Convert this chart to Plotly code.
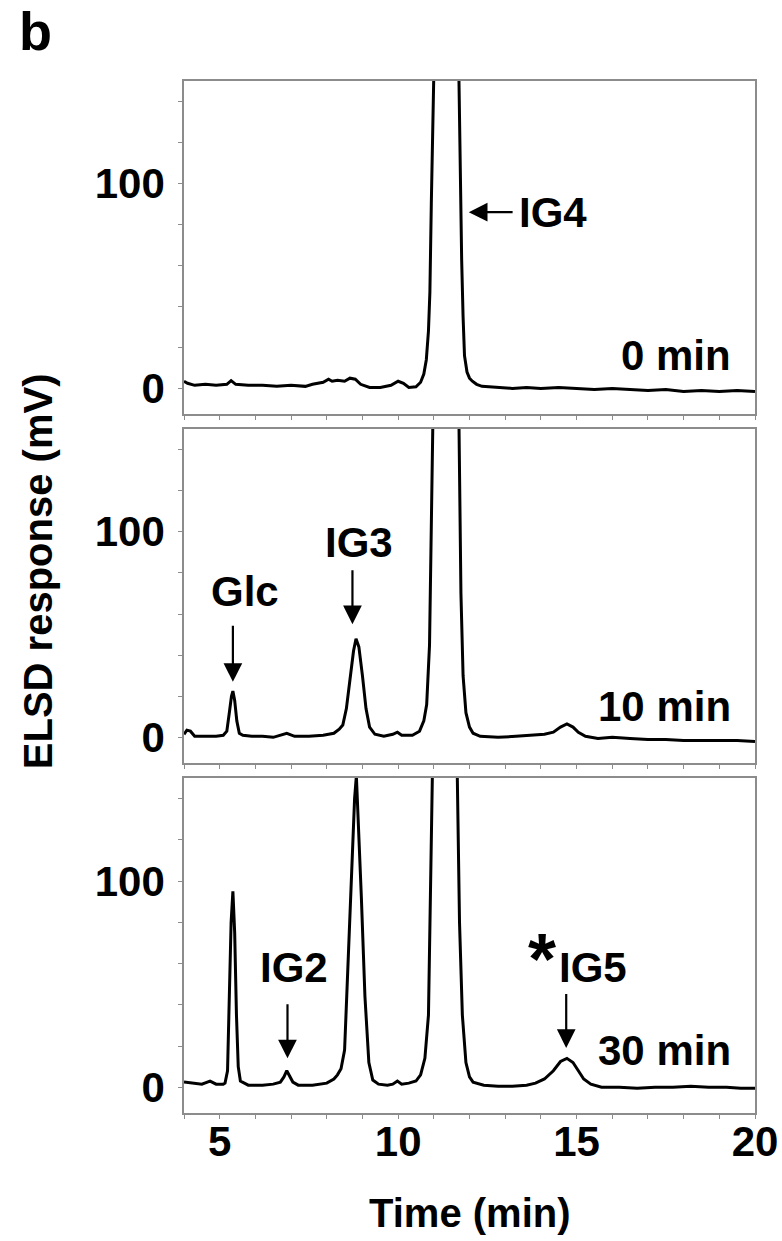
import plotly.graph_objects as go

# ---------------- data ----------------
t0_x = [4.0, 4.1, 4.3, 4.6, 4.9, 5.2, 5.32, 5.45, 5.8, 6.2, 6.6, 7.0, 7.4, 7.6, 7.9, 8.05, 8.15, 8.3, 8.5,
        8.65, 8.8, 8.95, 9.2, 9.5, 9.8, 10.0, 10.15, 10.3, 10.5, 10.63, 10.72, 10.79, 10.85, 10.89, 10.93,
        10.97, 11.1, 11.33, 11.55, 11.70, 11.74, 11.78, 11.82, 11.86, 11.93, 12.0, 12.08, 12.2, 12.35, 12.7,
        13.2, 13.6, 14.0, 14.5, 15.0, 15.5, 16.0, 16.5, 17.0, 17.5, 18.0, 18.5, 19.0, 19.5, 20.0]
t0_y = [3.5, 2.5, 1.5, 2, 1.5, 2, 3.8, 2, 1.5, 1.5, 1, 1.5, 1, 2, 3, 4.5, 3.5, 4, 3.5,
        5, 4.5, 2, 0.5, 0.5, 1.5, 3.5, 2.5, 0.5, 0.8, 3, 7, 14, 28, 47, 90,
        160, 330, 450, 330, 160, 100, 63, 35, 16, 8, 5, 3.5, 2, 1, 0.5,
        0, 0.5, 0, 0.5, 0, -0.5, 0, -0.5, -1, -0.5, -1.5, -1, -1.5, -1, -1.5]

t10_x = [4.0, 4.08, 4.18, 4.3, 4.6, 4.9, 5.1, 5.2, 5.27, 5.33, 5.37, 5.42, 5.48, 5.55, 5.65, 5.9, 6.2, 6.5,
         6.88, 7.1, 7.5, 7.9, 8.2, 8.35, 8.45, 8.55, 8.65, 8.75, 8.82, 8.9, 9.0, 9.1, 9.2, 9.35, 9.6, 9.85,
         9.98, 10.1, 10.4, 10.6, 10.72, 10.8, 10.88, 10.97, 11.1, 11.33, 11.55, 11.70, 11.76, 11.82, 11.9,
         12.0, 12.1, 12.3, 12.8, 13.3, 13.8, 14.1, 14.35, 14.55, 14.73, 14.9, 15.05, 15.25, 15.6, 16.0,
         16.5, 17.0, 17.5, 18.0, 18.5, 19.0, 19.5, 20.0]
t10_y = [1.5, 3.5, 3, 0.5, 0.5, 0.5, 1, 3, 12, 20, 22.5, 18, 8, 2, 1, 0.5, 0.5, 0,
         2, 0.5, 0.5, 1, 2, 4, 6, 14, 28, 42, 48, 44, 30, 14, 5, 1.5, 0.5, 1.5,
         2.5, 1, 1, 3, 8, 16, 45, 160, 300, 400, 300, 160, 70, 30, 12,
         5, 2, 0.5, 0, 0.5, 1, 1.5, 2.5, 5, 6.5, 5, 2.5, 0.5, -0.5, 0,
         -0.5, -1, -1, -1.5, -1.5, -1.5, -1.5, -2]

t30_x = [4.0, 4.2, 4.5, 4.73, 4.9, 5.1, 5.15, 5.22, 5.27, 5.32, 5.37, 5.42, 5.47, 5.52, 5.58, 5.8, 6.2, 6.5,
         6.7, 6.8, 6.88, 6.96, 7.05, 7.2, 7.6, 8.0, 8.2, 8.3, 8.4, 8.5, 8.59, 8.7, 8.78, 8.83, 8.9, 8.97,
         9.07, 9.18, 9.29, 9.45, 9.7, 9.85, 9.98, 10.1, 10.3, 10.5, 10.63, 10.75, 10.85, 10.97, 11.1, 11.3,
         11.5, 11.65, 11.72, 11.8, 11.9, 12.0, 12.1, 12.4, 12.8, 13.2, 13.6, 13.85, 14.1, 14.35, 14.55,
         14.73, 14.9, 15.05, 15.2, 15.4, 15.7, 16.2, 16.7, 17.2, 17.7, 18.2, 18.7, 19.2, 19.6, 20.0]
t30_y = [2.5, 2, 1.5, 3, 1.5, 1.5, 2, 8, 40, 80, 95, 75, 35, 10, 3, 1, 1, 1.5,
         2.5, 5, 8, 5.5, 2.5, 1, 1, 2, 4, 6, 9, 18, 55, 108, 140, 151, 125, 92,
         44, 12, 3.5, 1.5, 1, 1.5, 3, 1.5, 2, 3, 6, 14, 35, 160, 300, 380,
         300, 160, 80, 35, 12, 5, 2.5, 1, 0.5, 0.5, 1, 2, 4, 8, 12.5,
         14, 12, 8, 4, 1.5, 0, 0, -0.5, 0, 0, 0.5, 0, 0, -0.5, -0.5]

panel_labels = ["0 min", "10 min", "30 min"]
x_tick_vals = list(range(4, 21))
x_tick_text = ["5" if v == 5 else "10" if v == 10 else "15" if v == 15 else "20" if v == 20 else "" for v in x_tick_vals]
y_tick_vals = [0, 20, 40, 60, 80, 100, 120, 140]
y_tick_text = ["0", "", "", "", "", "100", "", ""]

# ---------------- figure ----------------
FONT = "Liberation Sans, Arial, sans-serif"
GRAY = "#8c8c8c"

fig = go.Figure()
traces = [(t0_x, t0_y), (t10_x, t10_y), (t30_x, t30_y)]
for i, (xs, ys) in enumerate(traces):
    sfx = "" if i == 0 else str(i + 1)
    fig.add_trace(go.Scatter(x=xs, y=ys, mode="lines",
                             line=dict(color="black", width=3),
                             xaxis="x" + sfx, yaxis="y" + sfx, showlegend=False))

domains = [[0.6773, 1.0], [0.3391, 0.6628], [0.0, 0.3246]]
yrange = [-12.5, 150]
layout = dict(template="none", width=782, height=1241,
              margin=dict(l=184, r=27, t=81, b=128, autoexpand=False),
              plot_bgcolor="white", paper_bgcolor="white",
              font=dict(family=FONT, color="black"))
for i in range(3):
    sfx = "" if i == 0 else str(i + 1)
    layout["xaxis" + sfx] = dict(domain=[0, 1], anchor="y" + sfx, range=[4, 20],
                                 tickvals=x_tick_vals, ticktext=x_tick_text,
                                 showticklabels=(i == 2), ticks="outside", ticklen=4,
                                 tickcolor=GRAY, showline=True, linecolor=GRAY, linewidth=1.5,
                                 mirror=True, showgrid=False, zeroline=False, automargin=False,
                                 tickfont=dict(size=42, weight="bold", family=FONT),
                                 ticklabelstandoff=-13)
    layout["yaxis" + sfx] = dict(domain=domains[i], anchor="x" + sfx, range=yrange,
                                 tickvals=y_tick_vals, ticktext=y_tick_text,
                                 ticks="outside", ticklen=4, tickcolor=GRAY,
                                 showline=True, linecolor=GRAY, linewidth=1.5, mirror=True,
                                 showgrid=False, zeroline=False, automargin=False,
                                 tickfont=dict(size=42, weight="bold", family=FONT),
                                 ticklabelstandoff=5)
fig.update_layout(**layout)

tf = dict(size=42, weight="bold", family=FONT, color="black")
ann = []
def text(x, y, s, sfx, xanchor="center", size=42):
    f = dict(tf); f["size"] = size
    ann.append(dict(x=x, y=y, xref="x" + sfx, yref="y" + sfx, text=s, showarrow=False,
                    xanchor=xanchor, yanchor="middle", font=f))
def arrow(x, y, ax, ay, sfx):
    ann.append(dict(x=x, y=y, ax=ax, ay=ay, xref="x" + sfx, yref="y" + sfx,
                    axref="x" + sfx, ayref="y" + sfx, text="", showarrow=True,
                    arrowhead=2, arrowsize=1.7, arrowwidth=2.2, arrowcolor="black"))

# top panel
arrow(11.98, 86, 13.25, 86, "")
text(13.33, 86, "IG4", "", xanchor="left")
text(19.38, 16, panel_labels[0], "", xanchor="right")
# middle panel
arrow(5.37, 27, 5.37, 55, "2")
text(5.71, 71, "Glc", "2")
arrow(8.72, 55, 8.72, 82, "2")
text(8.91, 95, "IG3", "2")
text(19.38, 15, panel_labels[1], "2", xanchor="right")
# bottom panel
arrow(6.9, 14, 6.9, 41, "3")
text(7.08, 58, "IG2", "3")
arrow(14.71, 19, 14.71, 46, "3")
text(15.46, 58, "IG5", "3")
text(14.03, 62, "*", "3", size=72)
text(19.38, 18, panel_labels[2], "3", xanchor="right")

# axis titles and panel letter
tf40 = dict(tf); tf40["size"] = 40
ann.append(dict(x=-0.2557, y=0.525, xref="paper", yref="paper", text="ELSD response (mV)",
                textangle=-90, showarrow=False, xanchor="center", yanchor="middle", font=tf40))
ann.append(dict(x=0.5009, y=-0.0969, xref="paper", yref="paper", text="Time (min)",
                showarrow=False, xanchor="center", yanchor="middle", font=tf40))
ann.append(dict(x=-0.2907, y=1.0785, xref="paper", yref="paper", text="b",
                showarrow=False, xanchor="left", yanchor="top", borderpad=0,
                font=dict(size=54, weight="bold", family=FONT, color="black")))
fig.update_layout(annotations=ann)

# remove the browser's default 8px body margin so the figure fills the window exactly
fig.write_html("out.html", config={"displayModeBar": False},
               post_script="document.body.style.margin='0px';")
